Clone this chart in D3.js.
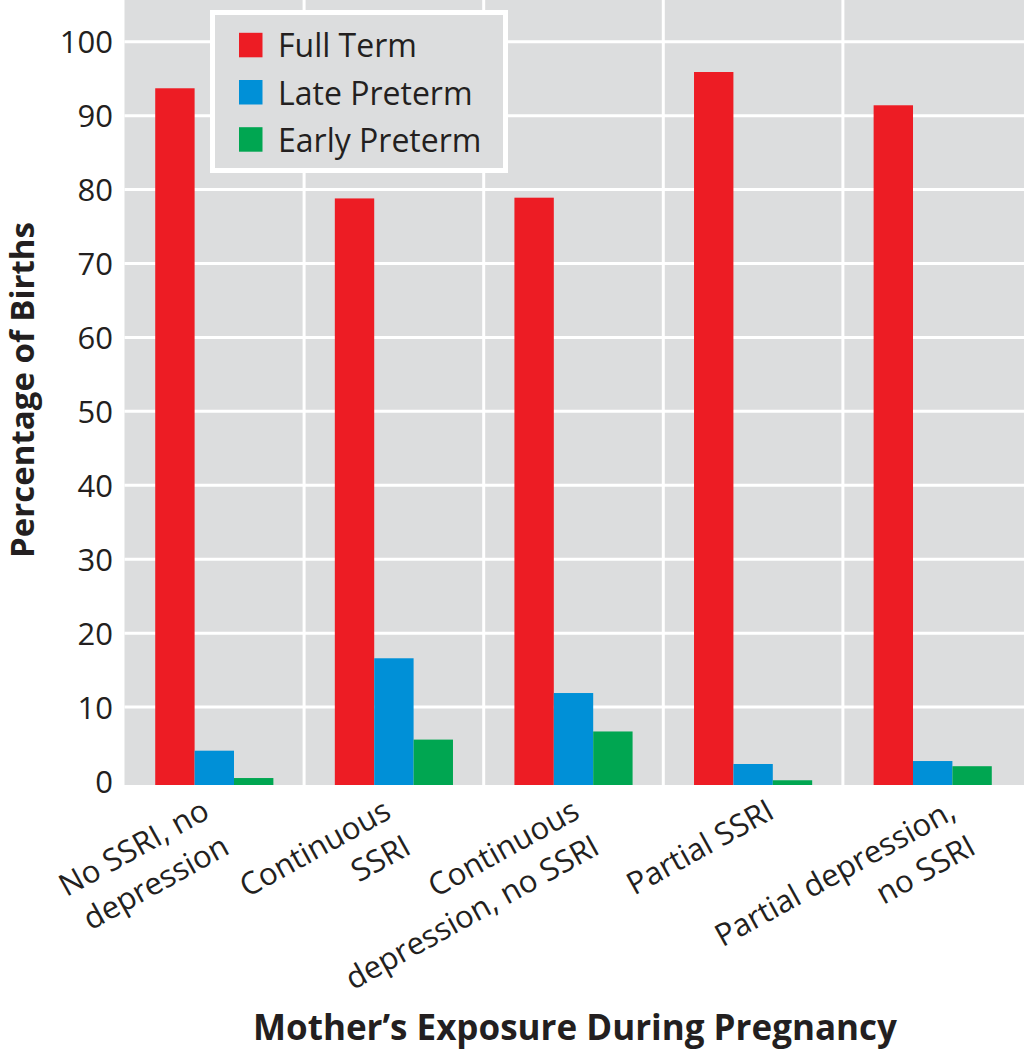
<!DOCTYPE html>
<html>
<head>
<meta charset="utf-8">
<script src="https://cdn.jsdelivr.net/npm/d3@7"></script>
<style>
  html, body { margin: 0; padding: 0; background: #fff; }
  svg { display: block; }
  text { font-family: "Open Sans", "Noto Sans", sans-serif; fill: #231f20; }
</style>
</head>
<body>
<svg id="chart" width="1024" height="1050"></svg>
<script>
// ---- data ----
const categories = [
  ["No SSRI, no", "depression"],
  ["Continuous", "SSRI"],
  ["Continuous", "depression, no SSRI"],
  ["Partial SSRI"],
  ["Partial depression,", "no SSRI"]
];
const series = ["Full Term", "Late Preterm", "Early Preterm"];
const fullTerm     = [93.7, 78.8, 78.9, 95.9, 91.4];
const latePreterm  = [4.1, 16.6, 11.9, 2.3, 2.7];
const earlyPreterm = [0.4, 5.6, 6.7, 0.1, 2.0];
const yTicks = [0, 10, 20, 30, 40, 50, 60, 70, 80, 90, 100];
const colors = ["#ed1c24", "#0090d7", "#00a651"];
// small layout nudges for the rotated category labels (px)
const labelNudge = [-3, -1, 8, 23, 25];

const seriesValues = [fullTerm, latePreterm, earlyPreterm];
const catKeys = categories.map(c => c.join(" "));

// ---- layout ----
const svg = d3.select("#chart");
const plotLeft = 124.5, plotRight = 1024, plotTop = 0, plotBottom = 785;

const x = d3.scaleBand().domain(catKeys).range([124.5, 1022.5]).paddingInner(0).paddingOuter(0);
const xi = d3.scaleBand().domain(series).range([0, x.bandwidth()]).paddingInner(0).paddingOuter(0.78);
const y = d3.scaleLinear().domain([0, 100]).range([781, 41.7]);

// background
svg.append("rect")
  .attr("x", plotLeft).attr("y", plotTop)
  .attr("width", plotRight - plotLeft).attr("height", plotBottom - plotTop)
  .attr("fill", "#dcddde");

// horizontal grid lines
svg.append("g").selectAll("line")
  .data(yTicks.filter(t => t > 0))
  .join("line")
  .attr("x1", plotLeft).attr("x2", plotRight)
  .attr("y1", d => y(d)).attr("y2", d => y(d))
  .attr("stroke", "#fff").attr("stroke-width", 3);

// vertical separators
svg.append("g").selectAll("line")
  .data(catKeys.slice(1))
  .join("line")
  .attr("x1", d => x(d)).attr("x2", d => x(d))
  .attr("y1", plotTop).attr("y2", plotBottom)
  .attr("stroke", "#fff").attr("stroke-width", 3);

// bars
const groups = svg.append("g").selectAll("g")
  .data(catKeys)
  .join("g")
  .attr("transform", d => `translate(${x(d)},0)`);

groups.selectAll("rect")
  .data((d, i) => series.map((s, j) => ({ s, j, v: seriesValues[j][i] })))
  .join("rect")
  .attr("x", d => xi(d.s))
  .attr("width", xi.bandwidth())
  .attr("y", d => y(d.v))
  .attr("height", d => plotBottom - y(d.v))
  .attr("fill", d => colors[d.j]);

// y axis tick labels
const yAxis = d3.axisLeft(y).tickValues(yTicks).tickSize(0).tickPadding(0);
const yg = svg.append("g").attr("transform", "translate(113,0)").call(yAxis);
yg.select(".domain").remove();
yg.selectAll("text")
  .attr("font-size", 31)
  .attr("font-family", "'Open Sans', sans-serif")
  .attr("fill", "#231f20")
  .attr("x", 0)
  .attr("dy", "0.36em");

// y axis title
svg.append("text")
  .attr("transform", "translate(34,390) rotate(-90)")
  .attr("text-anchor", "middle")
  .attr("font-size", 33)
  .attr("font-weight", 700)
  .text("Percentage of Births");

// x category labels
const xl = svg.append("g").selectAll("text")
  .data(categories)
  .join("text")
  .attr("transform", (d, i) => `translate(${x(catKeys[i]) + x.bandwidth() / 2 + labelNudge[i]},817) rotate(-29)`)
  .attr("text-anchor", "end")
  .attr("font-size", 31);
xl.selectAll("tspan")
  .data(d => d)
  .join("tspan")
  .attr("x", 0)
  .attr("y", (d, i) => i * 41)
  .text(d => d);

// x axis title
svg.append("text")
  .attr("x", 575).attr("y", 1040)
  .attr("text-anchor", "middle")
  .attr("font-size", 35)
  .attr("font-weight", 700)
  .text("Mother\u2019s Exposure During Pregnancy");

// legend
const lg = svg.append("g");
lg.append("rect")
  .attr("x", 212.5).attr("y", 12.5).attr("width", 293).attr("height", 158)
  .attr("fill", "#dcddde").attr("stroke", "#fff").attr("stroke-width", 5);
const items = lg.selectAll("g.item")
  .data(series)
  .join("g")
  .attr("class", "item")
  .attr("transform", (d, i) => `translate(239,${57.3 + i * 47.2})`);
items.append("rect")
  .attr("x", 0).attr("y", -24.5).attr("width", 23.5).attr("height", 24.5)
  .attr("fill", (d, i) => colors[i]);
items.append("text")
  .attr("x", 39).attr("y", 0)
  .attr("font-size", 32)
  .text(d => d);
</script>
</body>
</html>
